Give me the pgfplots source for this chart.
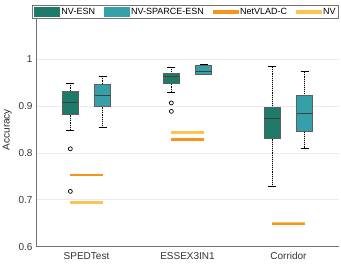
\documentclass[border=0pt]{standalone}
\usepackage{pgfplots}
\pgfplotsset{compat=1.18}
\usepgfplotslibrary{statistics}
\usepackage{fontspec}
\setmainfont{Liberation Sans}
\definecolor{esn}{RGB}{30,123,106}
\definecolor{sparce}{RGB}{53,160,168}
\definecolor{netvlad}{RGB}{247,148,29}
\definecolor{nvc}{RGB}{253,196,84}
\definecolor{boxedge}{RGB}{95,95,95}
\pgfplotsset{
 boxplot/draw/lower whisker/.code={%
   \draw[black, densely dotted, line width=0.9pt] (boxplot box cs:\pgfplotsboxplotvalue{lower whisker},0.5) -- (boxplot box cs:\pgfplotsboxplotvalue{lower quartile},0.5);
   \draw[black, line width=0.8pt] (boxplot whisker cs:\pgfplotsboxplotvalue{lower whisker},0) -- (boxplot whisker cs:\pgfplotsboxplotvalue{lower whisker},1);
 },
 boxplot/draw/upper whisker/.code={%
   \draw[black, densely dotted, line width=0.9pt] (boxplot box cs:\pgfplotsboxplotvalue{upper quartile},0.5) -- (boxplot box cs:\pgfplotsboxplotvalue{upper whisker},0.5);
   \draw[black, line width=0.8pt] (boxplot whisker cs:\pgfplotsboxplotvalue{upper whisker},0) -- (boxplot whisker cs:\pgfplotsboxplotvalue{upper whisker},1);
 },
}
\begin{document}
\begin{tikzpicture}
\begin{axis}[
 scale only axis, width=303pt, height=234pt,
 xmin=0.5, xmax=3.5, ymin=0.6, ymax=1.1,
 xtick={1,2,3}, xticklabels={SPEDTest,ESSEX3IN1,Corridor},
 ytick={0.6,0.7,0.8,0.9,1},
 yticklabels={0.6,0.7,0.8,0.9,1},
 ymajorgrids, grid style={black!8, line width=0.6pt},
 axis x line=bottom, axis y line=left,
 axis line style={-, black!55, line width=0.8pt},
 major tick length=0pt,
 tick label style={font=\fontsize{10}{12}\selectfont, text=black!80},
 xticklabel style={yshift=-2.5pt},
 ylabel={Accuracy}, ylabel style={font=\fontsize{10}{12}\selectfont, text=black!85},
 boxplot/draw direction=y,
 boxplot/box extend=0.16, boxplot/whisker extend=0.08,
 boxplot/every box/.style={draw=boxedge, line width=1pt},
 boxplot/every median/.style={draw=black!75, line width=1pt},
 legend columns=4,
 legend style={at={(0.494,1.034)}, anchor=north, draw=black!55, line width=0.8pt,
   fill=white, font=\fontsize{9}{10}\selectfont, inner sep=1.5pt,
   nodes={inner sep=1.4pt},
   /tikz/every even column/.append style={column sep=7.5pt}},
]
% SPEDTest
\addplot[boxplot prepared={lower whisker=0.849, lower quartile=0.882, median=0.907, upper quartile=0.932, upper whisker=0.949, draw position=0.84}, fill=esn, mark=o, mark size=2pt, mark options={black, line width=0.7pt, fill=none}, forget plot]
  table[row sep=\\, y index=0] {0.809\\0.718\\};
\addplot[boxplot prepared={lower whisker=0.854, lower quartile=0.899, median=0.922, upper quartile=0.947, upper whisker=0.963, draw position=1.16}, fill=sparce, forget plot]
  coordinates {};
% ESSEX3IN1
\addplot[boxplot prepared={lower whisker=0.930, lower quartile=0.949, median=0.964, upper quartile=0.970, upper whisker=0.982, draw position=1.84}, fill=esn, mark=o, mark size=2pt, mark options={black, line width=0.7pt, fill=none}, forget plot]
  table[row sep=\\, y index=0] {0.907\\0.889\\};
\addplot[boxplot prepared={lower whisker=0.967, lower quartile=0.967, median=0.975, upper quartile=0.986, upper whisker=0.990, draw position=2.16}, fill=sparce, forget plot]
  coordinates {};
% Corridor
\addplot[boxplot prepared={lower whisker=0.728, lower quartile=0.830, median=0.874, upper quartile=0.897, upper whisker=0.984, draw position=2.84}, fill=esn, forget plot]
  coordinates {};
\addplot[boxplot prepared={lower whisker=0.810, lower quartile=0.845, median=0.884, upper quartile=0.923, upper whisker=0.974, draw position=3.16}, fill=sparce, forget plot]
  coordinates {};
% NetVLAD-C
\addplot[netvlad, line width=2.8pt, forget plot] coordinates {(0.84,0.753) (1.16,0.753)};
\addplot[netvlad, line width=2.8pt, forget plot] coordinates {(1.84,0.828) (2.16,0.828)};
% NV
\addplot[nvc, line width=2.8pt, forget plot] coordinates {(0.84,0.695) (1.16,0.695)};
\addplot[nvc, line width=2.8pt, forget plot] coordinates {(1.84,0.844) (2.16,0.844)};
\addplot[nvc, line width=3pt, forget plot] coordinates {(2.84,0.649) (3.16,0.649)};
\addplot[netvlad, line width=1.8pt, forget plot] coordinates {(2.84,0.648) (3.16,0.648)};
% legend
\addlegendimage{legend image code/.code={\fill[esn] (0pt,-4.5pt) rectangle (25pt,4.5pt);}}
\addlegendentry{NV-ESN}
\addlegendimage{legend image code/.code={\fill[sparce] (0pt,-4.5pt) rectangle (25pt,4.5pt);}}
\addlegendentry{NV-SPARCE-ESN}
\addlegendimage{legend image code/.code={\fill[netvlad] (0pt,-1.4pt) rectangle (25pt,1.4pt);}}
\addlegendentry{NetVLAD-C}
\addlegendimage{legend image code/.code={\fill[nvc] (0pt,-1.4pt) rectangle (25pt,1.4pt);}}
\addlegendentry{NV}
\end{axis}
\pgfresetboundingbox
\path[use as bounding box] ([xshift=-36pt,yshift=-19.7pt]current axis.south west) rectangle ([xshift=2pt,yshift=12.6pt]current axis.north east);
\end{tikzpicture}
\end{document}
